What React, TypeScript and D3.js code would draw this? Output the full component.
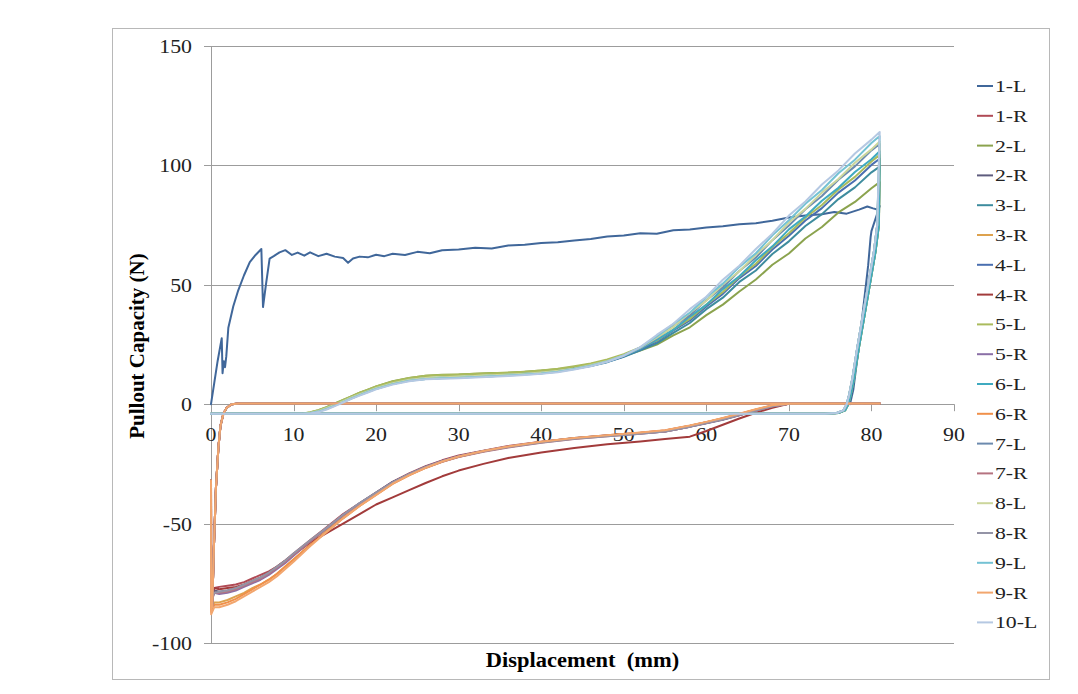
import * as d3 from 'd3';

// series names in legend order
const seriesNames = ['1-L', '1-R', '2-L', '2-R', '3-L', '3-R', '4-L', '4-R', '5-L', '5-R', '6-L', '6-R', '7-L', '7-R', '8-L', '8-R', '9-L', '9-R', '10-L'];
const seriesColors = ['#40679A', '#B04A55', '#8BA34E', '#5E5C7E', '#3E8C9E', '#DDA24E', '#4A6FB0', '#A23B3B', '#AABB5C', '#8A6FA6', '#3FAAC0', '#F0904A', '#6C8AAE', '#B57380', '#CCD69C', '#9494A6', '#74C2D4', '#F2A66E', '#B5C8E2'];

const xTicks = [0, 10, 20, 30, 40, 50, 60, 70, 80, 90];
const yTicks = [-100, -50, 0, 50, 100, 150];

// 1-L (different behaviour)
const oneLX = [0, 0.4, 0.8, 1.3, 1.4, 1.55, 1.7, 1.85, 2.1, 2.7, 3.3, 4, 4.7, 5.4, 6.1, 6.3, 6.65, 7.1, 7.6, 8.3, 9, 9.8, 10.5, 11.3, 12, 13, 14, 15, 16, 16.6, 17.2, 18, 19, 20, 21, 22, 23.5, 25, 26.5, 28, 30, 32, 34, 36, 38, 40, 42, 44, 46, 48, 50, 52, 54, 56, 58, 60, 62, 64, 66, 68, 70, 72, 74, 75.5, 77, 78.5, 79.5, 80.2, 80.7, 81, 80, 79.9, 79.6, 79, 78.4, 77.8, 77.4];
const oneLY = [0, 9, 18, 27.6, 13, 18, 15.5, 20, 32, 41, 47.7, 54, 59.5, 62.5, 65, 40.7, 50, 61, 62, 63.6, 64.5, 62.5, 63.5, 62.2, 63.6, 62, 63, 61.8, 61.2, 59.2, 61, 61.8, 61.5, 62.6, 62, 63, 62.5, 63.8, 63.2, 64.5, 64.8, 65.5, 65.2, 66.5, 66.8, 67.5, 67.8, 68.6, 69.2, 70.2, 70.6, 71.6, 71.4, 72.8, 73.2, 74, 74.5, 75.4, 75.8, 76.8, 78.2, 79, 79.5, 80.5, 79.8, 81.5, 82.8, 82, 81.5, 83, 72.5, 70, 58, 40, 22, 6, 0];

// L series, loading path
const lX = [0, 11, 12, 13, 14, 15, 16, 17, 18, 19, 20, 22, 24, 26, 28, 30, 32, 34, 36, 38, 40, 42, 44, 46, 48, 50, 52, 54, 56, 58, 60, 62, 64, 66, 68, 70, 72, 74, 76, 78, 80, 81];
const y2L = [-4, -4, -3.5, -2.5, -1.2, 0.3, 1.8, 3.3, 4.8, 6.1, 7.4, 9.6, 11, 11.9, 12.3, 12.4, 12.8, 13.1, 13.2, 13.6, 14.1, 14.6, 15.6, 16.8, 18.2, 20.2, 22.5, 25, 28.8, 32.2, 37.3, 41.7, 47.2, 52.2, 58.4, 63.1, 69.4, 74.2, 80.3, 84.7, 90.4, 93];
const y3L = [-4, -4, -3.7, -3, -1.9, -0.5, 1, 2.5, 3.9, 5.2, 6.5, 8.5, 9.9, 10.6, 11, 11.2, 11.5, 11.7, 12.2, 12.5, 13, 13.7, 14.8, 16, 17.6, 19.8, 22.6, 25.5, 29.9, 34, 39.8, 44.6, 51.2, 56, 62.9, 68.2, 74.6, 79.6, 85.9, 90.8, 97.1, 99.5];
const y4L = [-4, -4, -3.6, -2.9, -1.7, -0.3, 1.2, 2.6, 4, 5.3, 6.6, 8.6, 10, 10.8, 11.1, 11.3, 11.6, 11.9, 12.2, 12.6, 13.1, 13.8, 14.9, 16.1, 17.8, 20, 23, 26.2, 30.9, 35.1, 40.9, 46.2, 52.8, 57.9, 64.8, 70.5, 76.9, 82.1, 88.6, 93.7, 100.2, 102.8];
const y5L = [-4, -4, -3.4, -2.5, -1.2, 0.2, 1.8, 3.3, 4.8, 6.1, 7.4, 9.5, 11, 11.9, 12.2, 12.4, 12.7, 13, 13.3, 13.6, 14.1, 14.8, 15.9, 17.1, 18.7, 20.9, 23.8, 26.6, 31.3, 35.7, 41.7, 47, 53.5, 58.8, 65.8, 71.6, 78.1, 83.4, 89.9, 95.2, 101.6, 104.4];
const y6L = [-4, -4, -3.7, -2.9, -1.7, -0.3, 1.2, 2.7, 4.1, 5.4, 6.7, 8.7, 10.1, 10.9, 11.2, 11.4, 11.7, 12, 12.3, 12.7, 13.2, 13.9, 14.9, 16.2, 17.9, 20.2, 23.2, 26.9, 31.1, 36.7, 41.6, 48.2, 53.6, 60.3, 66.1, 73.2, 78.6, 85.2, 90.6, 97.2, 102.6, 105.9];
const y7L = [-4, -4, -3.7, -3, -1.8, -0.4, 1.1, 2.6, 4, 5.3, 6.6, 8.6, 10, 10.8, 11.1, 11.3, 11.6, 11.9, 12.2, 12.6, 13.1, 13.8, 14.9, 16.2, 17.9, 20.3, 23.5, 27.6, 32.6, 37.2, 43.5, 49, 55.8, 61.4, 68.7, 74.8, 81.6, 87.2, 94, 99.6, 106.3, 109];
const y8L = [-4, -4, -3.6, -2.8, -1.6, -0.2, 1.3, 2.8, 4.2, 5.5, 6.8, 8.8, 10.2, 11, 11.3, 11.5, 11.8, 12.1, 12.4, 12.8, 13.3, 14, 15, 16.4, 18.1, 20.5, 23.7, 27.9, 32.4, 38.2, 43.3, 50.1, 55.7, 62.6, 68.7, 76.1, 81.8, 88.6, 94.3, 101.1, 106.7, 110];
const y9L = [-4, -4, -3.8, -3.1, -2, -0.6, 0.9, 2.4, 3.8, 5.1, 6.4, 8.4, 9.8, 10.6, 10.9, 11.1, 11.4, 11.7, 12, 12.4, 12.9, 13.6, 14.7, 16.1, 17.9, 20.4, 23.8, 28.4, 33.6, 38.3, 44.8, 50.5, 57.5, 63.2, 70.7, 77, 83.9, 89.7, 96.7, 102.4, 109.4, 112.3];
const y10L = [-4, -4, -3.9, -3.3, -2.2, -0.8, 0.7, 2.2, 3.6, 4.9, 6.2, 8.2, 9.6, 10.4, 10.7, 10.9, 11.2, 11.5, 11.8, 12.2, 12.7, 13.4, 14.5, 15.9, 17.8, 20.3, 23.9, 29, 33.7, 39.8, 45, 52.1, 58, 65, 71.4, 79, 84.9, 92, 97.9, 105, 110.8, 114];

// L series, unloading path
const lReturnXA = [80.9, 80.5, 79.8, 79.1, 78.5, 77.9, 77.5, 77.2, 76.8, 76, 74.5, 0];
const lReturnXB = [80.7, 80.3, 79.6, 78.9, 78.3, 77.7, 77.3, 77.0, 76.6, 75.8, 74.3, 0];
const lReturnY = [75, 64, 50, 36, 24, 11, 4, 0, -2.6, -3.7, -4, -4];

// R series, loading path
const rX = [0, 0.02, 0.4, 1, 2, 3, 4, 5, 6, 7, 8, 9, 10, 12, 14, 16, 18, 20, 22, 24, 26, 28, 30, 33, 36, 40, 44, 48, 52, 55, 58, 60, 62, 64, 66, 68, 70, 81];
const y1R = [-32, -80, -77, -76.5, -76, -75.5, -74.5, -73, -71.5, -70, -68, -65.5, -62.5, -57, -51.5, -46, -41.5, -37, -32.5, -29, -26, -23.5, -21.5, -19.5, -17.5, -15.7, -14.3, -13, -12, -11, -9, -7.5, -6, -4.2, -2.3, -0.6, 0.2, 0.3];
const y2R = [-32, -82, -78, -78.5, -78, -77, -76, -74.5, -73, -71, -68.5, -66, -63, -57.5, -52, -46.5, -41.5, -37, -32.5, -29.3, -26.2, -23.8, -21.8, -19.6, -17.8, -15.8, -14.2, -13.1, -12.2, -11.4, -9.5, -8, -6.5, -4.6, -2.7, -1, 0.2, 0.3];
const y3R = [-32, -86, -83, -83, -82, -80.5, -79, -77, -75.5, -73.5, -71, -68, -65, -59, -53, -47.5, -42.5, -37.8, -33.2, -29.6, -26.5, -24, -22, -19.7, -17.9, -15.9, -14.4, -13.2, -12.1, -11.1, -9.1, -7.6, -6, -4.2, -2.3, -0.6, 0.2, 0.3];
const y4R = [-32, -80, -77, -77.5, -77, -76.5, -75.5, -74, -72.5, -70.5, -68, -65.5, -63, -58, -54, -50, -46, -42, -39, -36, -33, -30.2, -27.8, -25, -22.5, -20.2, -18.3, -16.8, -15.6, -14.6, -13.6, -11.2, -8.6, -6, -3.6, -1.5, 0.2, 0.3];
const y5R = [-32, -83, -79, -79.5, -79, -78, -76.5, -75, -73.5, -71.5, -69, -66.5, -63.5, -57.5, -52, -46.5, -41.5, -37.2, -32.8, -29.3, -26.3, -23.8, -21.8, -19.6, -17.7, -15.8, -14.3, -13.2, -12.3, -11.4, -9.4, -7.9, -6.3, -4.5, -2.6, -0.9, 0.2, 0.3];
const y6R = [-32, -87, -84, -84, -83, -81.5, -79.5, -77.5, -75.5, -73.5, -71, -68, -65, -59, -53.5, -47.8, -42.6, -38, -33.4, -29.8, -26.7, -24.1, -22, -19.7, -17.8, -15.8, -14.3, -13.1, -12, -11, -9, -7.5, -5.9, -4.1, -2.2, -0.5, 0.2, 0.3];
const y7R = [-32, -82, -79, -79, -78.5, -77.5, -76, -74.5, -73, -71, -68.5, -66, -63, -57.5, -52, -46.5, -41.7, -37.3, -33, -29.5, -26.5, -24.1, -22.1, -19.9, -18.1, -16.1, -14.6, -13.4, -12.4, -11.4, -9.4, -7.9, -6.3, -4.5, -2.6, -0.9, 0.2, 0.3];
const y8R = [-32, -81, -79, -78.5, -78, -77, -75.5, -74, -72.5, -70.5, -68, -65.5, -62.5, -57, -51.8, -46.3, -41.4, -37, -32.7, -29.2, -26.3, -23.9, -21.9, -19.7, -17.9, -16, -14.5, -13.4, -12.4, -11.4, -9.4, -7.9, -6.3, -4.5, -2.6, -0.9, 0.2, 0.3];
const y9R = [-32, -88, -85, -85, -84, -82.5, -80.5, -78.5, -76.5, -74.5, -72, -69, -66, -59.5, -53.5, -47.8, -42.6, -38, -33.3, -29.7, -26.6, -24, -21.9, -19.6, -17.7, -15.7, -14.2, -13, -11.9, -10.9, -8.9, -7.4, -5.8, -4, -2.1, -0.4, 0.2, 0.3];

// R series, unloading path
const rReturnX = [81, 3.4, 2.5, 1.9, 1.5, 1.15, 0.9, 0.6, 0.35, 0.15];
const rReturnY = [0.3, 0.3, 0, -1.5, -4, -9, -18, -35, -60, -85];

type Pt = [number, number];
const zip = (xs: number[], ys: number[]): Pt[] => xs.map((x, i) => [x, ys[i]] as Pt);

const lSeries = (ys: number[], back: number[]): Pt[] => zip(lX, ys).concat(zip(back, lReturnY));
const rSeries = (ys: number[]): Pt[] => zip(rX, ys).concat(zip(rReturnX, rReturnY));

const seriesData: Pt[][] = [
  zip(oneLX, oneLY),
  rSeries(y1R),
  lSeries(y2L, lReturnXA),
  rSeries(y2R),
  lSeries(y3L, lReturnXA),
  rSeries(y3R),
  lSeries(y4L, lReturnXB),
  rSeries(y4R),
  lSeries(y5L, lReturnXA),
  rSeries(y5R),
  lSeries(y6L, lReturnXA),
  rSeries(y6R),
  lSeries(y7L, lReturnXB),
  rSeries(y7R),
  lSeries(y8L, lReturnXB),
  rSeries(y8R),
  lSeries(y9L, lReturnXB),
  rSeries(y9R),
  lSeries(y10L, lReturnXB),
];

const W = 1078;
const H = 694;
const font = '"Liberation Serif", "Times New Roman", serif';
const gridColor = '#9c9c9c';

export default function App() {
  const x = d3.scaleLinear().domain([0, 90]).range([211, 954]);
  const y = d3.scaleLinear().domain([-100, 150]).range([643, 46]);
  const line = d3.line<Pt>().x(d => x(d[0])).y(d => y(d[1]));

  const legendTop = 86;
  const legendStep = 29.8;

  return (
    <svg width={W} height={H} style={{ position: 'absolute', left: 0, top: 0, background: '#fff' }}>
      <rect x={112.5} y={28.5} width={937} height={651} fill="#fff" stroke="#b8b8b8" strokeWidth={1} />

      {/* gridlines + y ticks */}
      {yTicks.map(t => (
        <line key={'g' + t} x1={204} x2={x(90)} y1={Math.round(y(t)) + 0.5} y2={Math.round(y(t)) + 0.5} stroke={gridColor} strokeWidth={1} />
      ))}
      <line x1={x(0) + 0.5} x2={x(0) + 0.5} y1={y(150)} y2={y(-100)} stroke={gridColor} strokeWidth={1} />
      {xTicks.map(t => (
        <line key={'xt' + t} x1={Math.round(x(t)) + 0.5} x2={Math.round(x(t)) + 0.5} y1={y(0)} y2={y(0) + 7} stroke={gridColor} strokeWidth={1} />
      ))}

      {/* tick labels */}
      {yTicks.map(t => (
        <text key={'yl' + t} transform={`translate(192,${y(t) + 7}) scale(1.15,1)`} textAnchor="end" fontFamily={font} fontSize={19} fill="#222">{t}</text>
      ))}
      {xTicks.map(t => (
        <text key={'xl' + t} transform={`translate(${x(t)},${y(0) + 37}) scale(1.15,1)`} textAnchor="middle" fontFamily={font} fontSize={19} fill="#222">{t}</text>
      ))}

      {/* series */}
      {seriesData.map((d, i) => (
        <path key={seriesNames[i]} d={line(d) || ''} fill="none" stroke={seriesColors[i]} strokeWidth={2} strokeLinejoin="round" strokeLinecap="round" />
      ))}

      {/* axis titles */}
      <text transform={`translate(${(x(0) + x(90)) / 2},667) scale(1.07,1)`} textAnchor="middle" fontFamily={font} fontSize={21} fontWeight="bold" fill="#000">{'Displacement\u00a0 (mm)'}</text>
      <text transform="translate(144,346) rotate(-90)" textAnchor="middle" fontFamily={font} fontSize={21} fontWeight="bold" fill="#000">Pullout Capacity (N)</text>

      {/* legend */}
      {seriesNames.map((n, i) => {
        const cy = legendTop + i * legendStep;
        return (
          <g key={'lg' + n}>
            <line x1={977} x2={993} y1={cy} y2={cy} stroke={seriesColors[i]} strokeWidth={2} />
            <text transform={`translate(995,${cy + 6}) scale(1.28,1)`} fontFamily={font} fontSize={17} fill="#222">{n}</text>
          </g>
        );
      })}
    </svg>
  );
}
